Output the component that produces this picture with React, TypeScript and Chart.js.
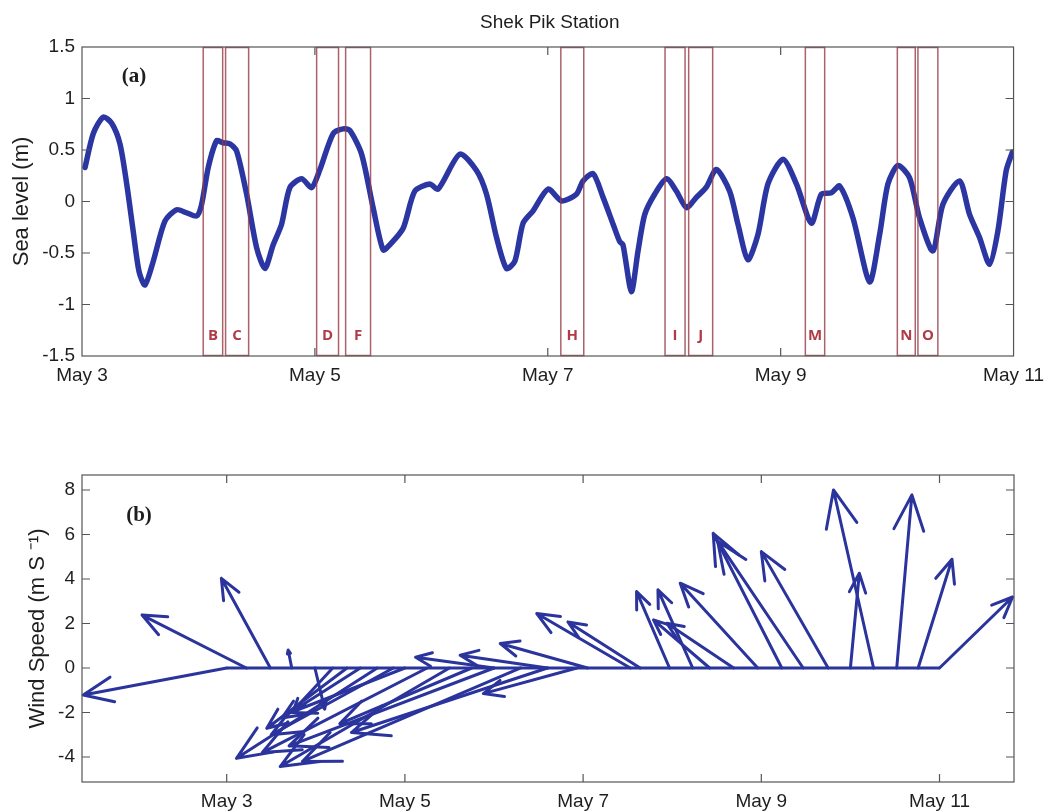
import React, { useEffect, useRef } from 'react';
import { Chart, registerables } from 'chart.js';
Chart.register(...registerables);

// ---------- Panel (a): sea level ----------
const seaTime = [3.026, 3.097, 3.183, 3.255, 3.326, 3.384, 3.44, 3.49, 3.541, 3.612, 3.712, 3.813, 3.899, 3.985, 4.027, 4.084, 4.156, 4.21, 4.27, 4.328, 4.414, 4.5, 4.571, 4.642, 4.714, 4.785, 4.886, 4.972, 5.043, 5.157, 5.243, 5.3, 5.401, 5.5, 5.586, 5.644, 5.758, 5.858, 5.987, 6.058, 6.245, 6.388, 6.474, 6.56, 6.645, 6.717, 6.788, 6.874, 7.003, 7.118, 7.246, 7.303, 7.389, 7.475, 7.561, 7.618, 7.646, 7.718, 7.775, 7.833, 7.918, 8.019, 8.105, 8.191, 8.276, 8.362, 8.448, 8.562, 8.633, 8.719, 8.805, 8.891, 9.02, 9.135, 9.264, 9.349, 9.435, 9.506, 9.621, 9.764, 9.85, 9.921, 10.007, 10.107, 10.193, 10.307, 10.393, 10.536, 10.622, 10.708, 10.794, 10.865, 10.937, 10.99];
const seaLevel = [0.33, 0.66, 0.82, 0.76, 0.56, 0.17, -0.29, -0.68, -0.81, -0.58, -0.19, -0.08, -0.11, -0.14, -0.03, 0.33, 0.59, 0.57, 0.56, 0.49, 0.07, -0.45, -0.65, -0.42, -0.22, 0.135, 0.22, 0.135, 0.31, 0.66, 0.705, 0.69, 0.46, -0.06, -0.47, -0.42, -0.26, 0.1, 0.17, 0.12, 0.46, 0.3, 0.07, -0.35, -0.65, -0.58, -0.21, -0.09, 0.12, 0.005, 0.07, 0.2, 0.27, 0.04, -0.22, -0.39, -0.42, -0.875, -0.48, -0.125, 0.07, 0.22, 0.1, -0.06, 0.04, 0.14, 0.31, 0.1, -0.22, -0.565, -0.32, 0.17, 0.41, 0.17, -0.21, 0.07, 0.085, 0.15, -0.16, -0.78, -0.32, 0.17, 0.35, 0.23, -0.16, -0.48, -0.03, 0.2, -0.125, -0.35, -0.61, -0.29, 0.3, 0.48];
const seaTicksX = [3, 5, 7, 9, 11];
const seaTicksY = [-1.5, -1, -0.5, 0, 0.5, 1, 1.5];

const boxLabels = ['B', 'C', 'D', 'F', 'H', 'I', 'J', 'M', 'N', 'O'];
const boxStart = [4.041, 4.233, 5.015, 5.264, 7.112, 8.007, 8.21, 9.212, 10.002, 10.179];
const boxEnd = [4.208, 4.431, 5.203, 5.478, 7.309, 8.179, 8.416, 9.378, 10.156, 10.35];
const boxLabelLevel = -1.3;

// ---------- Panel (b): wind vectors ----------
const windTicksX = [3, 5, 7, 9, 11];
const windTicksY = [-4, -2, 0, 2, 4, 6, 8];
const baselineTime = [3, 11];
const windBase = [3.0, 3.22, 3.49, 3.73,
  3.99, 4.19, 4.35, 4.5, 4.69, 4.87, 5.0, 5.25, 5.5, 5.75, 6.0, 6.3, 6.6,
  6.0, 6.6, 7.05, 6.93, 7.53, 7.64,
  7.97, 8.23, 8.42, 8.69, 8.96, 9.23, 9.47, 9.75, 10.0, 10.26, 10.52, 10.76, 11.0];
const windTipX = [1.39, 2.05, 2.94, 3.69,
  4.1, 3.75, 3.45, 3.62, 3.11, 3.5, 3.72, 3.4, 3.6, 4.27, 3.7, 3.85, 4.4,
  5.12, 5.62, 6.07, 5.88, 6.48, 6.83,
  7.6, 7.84, 7.79, 7.94, 8.09, 8.46, 8.51, 9.0, 10.1, 9.81, 10.69, 11.14, 11.82];
const windTipY = [-1.21, 2.38, 4.03, 0.81,
  -1.85, -1.9, -2.71, -2.25, -4.06, -3.0, -2.0, -3.8, -4.43, -2.5, -3.5, -4.2, -2.9,
  0.48, 0.57, 1.1, -1.15, 2.45, 2.07,
  3.43, 3.51, 2.16, 2.01, 3.81, 6.05, 5.7, 5.23, 4.26, 8.0, 7.78, 4.89, 3.19];

const FONT = "'Liberation Sans', Arial, Helvetica, sans-serif";
const BLUE = '#2b36a3';
const ARROW = '#2a349c';
const TEXT = '#1e1e1e';

function drawFrame(chart: any) {
  const { ctx, chartArea: a, scales } = chart;
  const tl = 8;
  ctx.save();
  ctx.strokeStyle = '#555';
  ctx.lineWidth = 1.2;
  ctx.strokeRect(a.left, a.top, a.right - a.left, a.bottom - a.top);
  ctx.beginPath();
  for (const t of scales.x.ticks) {
    const px = scales.x.getPixelForValue(t.value);
    if (px <= a.left + 1 || px >= a.right - 1) continue;
    ctx.moveTo(px, a.bottom); ctx.lineTo(px, a.bottom - tl);
    ctx.moveTo(px, a.top); ctx.lineTo(px, a.top + tl);
  }
  for (const t of scales.y.ticks) {
    const py = scales.y.getPixelForValue(t.value);
    if (py <= a.top + 1 || py >= a.bottom - 1) continue;
    ctx.moveTo(a.left, py); ctx.lineTo(a.left + tl, py);
    ctx.moveTo(a.right, py); ctx.lineTo(a.right - tl, py);
  }
  ctx.stroke();
  ctx.restore();
}

const seaPlugin = {
  id: 'seaOverlay',
  afterDatasetsDraw(chart: any) {
    const { ctx, chartArea: a, scales: { x, y } } = chart;
    ctx.save();
    ctx.strokeStyle = 'rgba(150,60,70,0.8)';
    ctx.lineWidth = 1.5;
    ctx.fillStyle = '#b03a46';
    ctx.font = "bold 15px 'Open Sans', sans-serif";
    ctx.textAlign = 'center';
    ctx.textBaseline = 'middle';
    boxStart.forEach((s, i) => {
      const l = x.getPixelForValue(s);
      const r = x.getPixelForValue(boxEnd[i]);
      ctx.strokeRect(l, a.top + 0.5, r - l, a.bottom - a.top - 1);
      ctx.fillText(boxLabels[i], (l + r) / 2, y.getPixelForValue(boxLabelLevel));
    });
    ctx.restore();
  },
  afterDraw(chart: any) {
    drawFrame(chart);
    const { ctx, chartArea: a } = chart;
    ctx.save();
    ctx.fillStyle = TEXT;
    ctx.font = `19px ${FONT}`;
    ctx.textAlign = 'center';
    ctx.textBaseline = 'middle';
    ctx.fillText('Shek Pik Station', (a.left + a.right) / 2 + 2, 23);
    ctx.font = "bold 21px 'Liberation Serif', 'Times New Roman', serif";
    ctx.fillText('(a)', a.left + 52, a.top + 30);
    ctx.restore();
  },
};

const windPlugin = {
  id: 'windOverlay',
  afterDatasetsDraw(chart: any) {
    const { ctx, scales: { x, y } } = chart;
    ctx.save();
    ctx.strokeStyle = ARROW;
    ctx.lineWidth = 3;
    ctx.lineCap = 'round';
    ctx.lineJoin = 'round';
    const spread = (23 * Math.PI) / 180;
    windBase.forEach((b, i) => {
      const bx = x.getPixelForValue(b);
      const by = y.getPixelForValue(0);
      const tx = x.getPixelForValue(windTipX[i]);
      const ty = y.getPixelForValue(windTipY[i]);
      const dx = tx - bx;
      const dy = ty - by;
      const len = Math.hypot(dx, dy);
      const h = Math.min(40, 0.22 * len);
      const ang = Math.atan2(dy, dx);
      ctx.beginPath();
      ctx.moveTo(bx, by);
      ctx.lineTo(tx, ty);
      ctx.moveTo(tx + h * Math.cos(ang + Math.PI - spread), ty + h * Math.sin(ang + Math.PI - spread));
      ctx.lineTo(tx, ty);
      ctx.lineTo(tx + h * Math.cos(ang + Math.PI + spread), ty + h * Math.sin(ang + Math.PI + spread));
      ctx.stroke();
    });
    ctx.restore();
  },
  afterDraw(chart: any) {
    drawFrame(chart);
    const { ctx, chartArea: a } = chart;
    ctx.save();
    ctx.fillStyle = TEXT;
    ctx.textAlign = 'center';
    ctx.textBaseline = 'middle';
    ctx.font = "bold 21px 'Liberation Serif', 'Times New Roman', serif";
    ctx.fillText('(b)', a.left + 57, a.top + 41);
    ctx.restore();
  },
};

const tickFont = { family: FONT, size: 19 };

function makeScales(opts: {
  xMin: number; xMax: number; yMin: number; yMax: number;
  xTicks: number[]; yTicks: number[]; yWidth: number; xHeight: number;
  title: string; titlePad: number;
}) {
  return {
    x: {
      type: 'linear',
      position: 'bottom',
      min: opts.xMin,
      max: opts.xMax,
      grid: { display: false, drawTicks: false },
      border: { display: false },
      ticks: {
        font: tickFont,
        color: TEXT,
        padding: 8,
        maxRotation: 0,
        autoSkip: false,
        callback: (v: any) => 'May ' + v,
      },
      afterBuildTicks: (s: any) => { s.ticks = opts.xTicks.map((v) => ({ value: v })); },
      afterFit: (s: any) => { s.height = opts.xHeight; },
    },
    y: {
      type: 'linear',
      position: 'left',
      min: opts.yMin,
      max: opts.yMax,
      grid: { display: false, drawTicks: false },
      border: { display: false },
      ticks: {
        font: tickFont,
        color: TEXT,
        padding: 7,
        autoSkip: false,
        callback: (v: any) => String(v),
      },
      title: {
        display: true,
        text: opts.title,
        color: TEXT,
        font: { family: FONT, size: 22 },
        padding: { top: opts.titlePad, bottom: 0 },
      },
      afterBuildTicks: (s: any) => { s.ticks = opts.yTicks.map((v) => ({ value: v })); },
      afterFit: (s: any) => { s.width = opts.yWidth; },
    },
  };
}

export default function App() {
  const topRef = useRef<HTMLCanvasElement>(null);
  const botRef = useRef<HTMLCanvasElement>(null);

  useEffect(() => {
    const top = new Chart(topRef.current as HTMLCanvasElement, {
      type: 'scatter',
      data: {
        datasets: [{
          data: seaTime.map((t, i) => ({ x: t, y: seaLevel[i] })),
          showLine: true,
          borderColor: BLUE,
          borderWidth: 5.5,
          pointRadius: 0,
          tension: 0.25,
          borderCapStyle: 'round',
          borderJoinStyle: 'round',
        } as any],
      },
      options: {
        animation: false,
        responsive: false,
        devicePixelRatio: 1,
        layout: { padding: { left: 0, top: 47, right: 38, bottom: 0 } },
        plugins: { legend: { display: false }, tooltip: { enabled: false }, title: { display: false } },
        events: [],
        scales: makeScales({
          xMin: 3, xMax: 11, yMin: -1.5, yMax: 1.5,
          xTicks: seaTicksX, yTicks: seaTicksY, yWidth: 82, xHeight: 50,
          title: 'Sea level (m)', titlePad: 9,
        }) as any,
      },
      plugins: [seaPlugin],
    });

    const bottom = new Chart(botRef.current as HTMLCanvasElement, {
      type: 'scatter',
      data: {
        datasets: [{
          data: baselineTime.map((t) => ({ x: t, y: 0 })),
          showLine: true,
          borderColor: ARROW,
          borderWidth: 3,
          pointRadius: 0,
        } as any],
      },
      options: {
        animation: false,
        responsive: false,
        devicePixelRatio: 1,
        layout: { padding: { left: 0, top: 69, right: 38, bottom: 0 } },
        plugins: { legend: { display: false }, tooltip: { enabled: false }, title: { display: false } },
        events: [],
        scales: makeScales({
          xMin: 1.376, xMax: 11.836, yMin: -5.124, yMax: 8.674,
          xTicks: windTicksX, yTicks: windTicksY, yWidth: 82, xHeight: 30,
          title: 'Wind Speed (m S ⁻¹)', titlePad: 25,
        }) as any,
      },
      plugins: [windPlugin],
    });

    return () => { top.destroy(); bottom.destroy(); };
  }, []);

  return (
    <div style={{ position: 'absolute', left: 0, top: 0, width: 1052, height: 812, background: '#fff', overflow: 'hidden' }}>
      <canvas ref={topRef} width={1052} height={406} style={{ position: 'absolute', left: 0, top: 0, width: 1052, height: 406 }} />
      <canvas ref={botRef} width={1052} height={406} style={{ position: 'absolute', left: 0, top: 406, width: 1052, height: 406 }} />
    </div>
  );
}
